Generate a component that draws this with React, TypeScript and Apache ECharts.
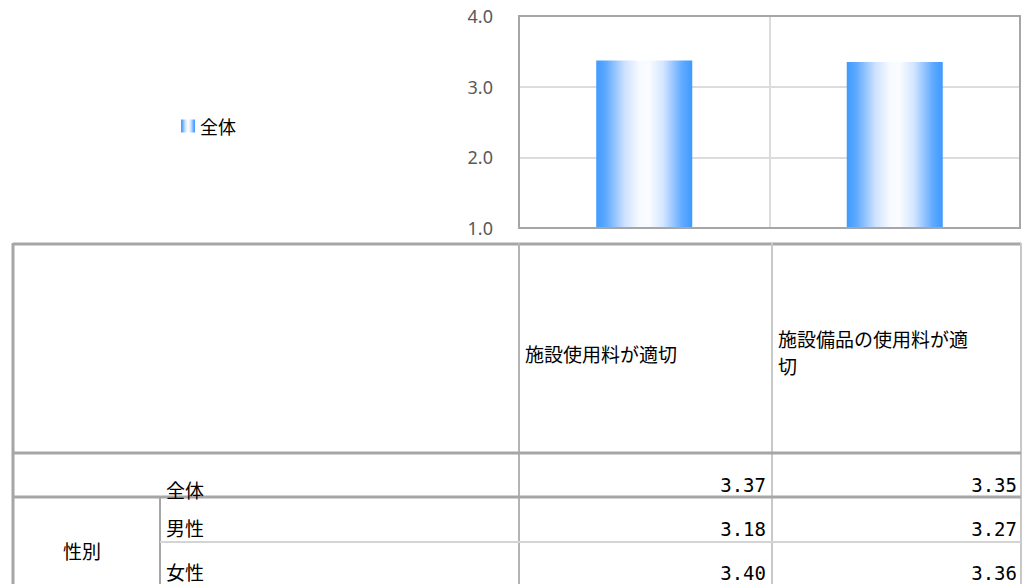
import React, { useEffect, useRef } from "react";
import * as echarts from "echarts";

const categories = ["施設使用料が適切", "施設備品の使用料が適\n切"];
const seriesName = "全体";
const overallValues = [3.37, 3.35];
const maleValues = [3.18, 3.27];
const femaleValues = [3.4, 3.36];
const rowLabels = ["全体", "男性", "女性"];
const groupLabel = "性別";
const yTicks = { min: 1, max: 4, interval: 1 };

const JP = '"Noto Sans CJK JP", "Noto Sans", sans-serif';
const NUM = '"DejaVu Sans Mono", monospace';

export default function App() {
  const ref = useRef<HTMLDivElement>(null);
  useEffect(() => {
    if (!ref.current) return;
    const chart = echarts.init(ref.current, undefined, { renderer: "svg" });
    const grad = new echarts.graphic.LinearGradient(0, 0, 1, 0, [
      { offset: 0, color: "#3f9aff" },
      { offset: 0.1, color: "#5ea9ff" },
      { offset: 0.3, color: "#cfe2ff" },
      { offset: 0.45, color: "#f7faff" },
      { offset: 0.55, color: "#fafcff" },
      { offset: 0.7, color: "#d3e5ff" },
      { offset: 0.9, color: "#5ea9ff" },
      { offset: 1, color: "#3f9aff" },
    ]);
    const outer = "#a6a6a6";
    const inner = "#c8c8c8";
    const line = (x1: number, y1: number, x2: number, y2: number, color: string, w: number) => ({
      type: "line",
      shape: { x1, y1, x2, y2 },
      style: { stroke: color, lineWidth: w },
      silent: true,
      z: 10,
    });
    const txt = (text: string, x: number, y: number, opts: any = {}) => ({
      type: "text",
      x,
      y,
      style: {
        text,
        fill: "#000",
        font: `19px ${JP}`,
        verticalAlign: "middle",
        align: "left",
        ...opts,
      },
      silent: true,
      z: 10,
    });
    const fmt = (v: number) => v.toFixed(2);
    const colRight = [766, 1017];
    const rowY = [485, 529, 573];
    const rows = [overallValues, maleValues, femaleValues];

    const graphics: any[] = [
      {
        type: "rect",
        shape: { x: 519, y: 16, width: 501, height: 212 },
        style: { fill: "none", stroke: "#a6a6a6", lineWidth: 2 },
        silent: true,
        z: 10,
      },
      line(13, 244, 1021, 244, outer, 3),
      line(13, 243, 13, 584, outer, 3),
      line(519, 243, 519, 584, "#b4b4b4", 2),
      line(772, 243, 772, 584, inner, 2),
      line(1021, 243, 1021, 584, inner, 2),
      line(13, 453, 1021, 453, outer, 3),
      line(13, 497, 1021, 497, outer, 3),
      line(160, 497, 160, 584, outer, 2),
      line(160, 542, 1021, 542, "#d4d4d4", 2),
      txt(categories[0], 525, 353),
      txt(categories[1], 778, 352, { lineHeight: 27 }),
      txt(rowLabels[0], 166, 489),
      txt(rowLabels[1], 166, 527),
      txt(rowLabels[2], 166, 571),
      txt(groupLabel, 63, 550),
    ];
    rows.forEach((vals, r) => {
      vals.forEach((v, c) => {
        graphics.push(
          txt(fmt(v), colRight[c], rowY[r], { align: "right", font: `19px ${NUM}` })
        );
      });
    });

    chart.setOption({
      animation: false,
      backgroundColor: "#fff",
      legend: {
        data: [seriesName],
        left: 176,
        top: 112,
        icon: "rect",
        itemWidth: 14,
        itemHeight: 13,
        textStyle: { fontSize: 18, color: "#000", fontFamily: JP },
      },
      grid: {
        left: 519,
        right: 3,
        top: 16,
        bottom: 356,
        show: false,
      },
      xAxis: {
        type: "category",
        data: categories,
        axisLabel: { show: false },
        axisTick: { show: false },
        axisLine: { show: false },
        splitLine: { show: true, interval: 0, lineStyle: { color: "#dcdcdc", width: 2 } },
      },
      yAxis: {
        type: "value",
        min: yTicks.min,
        max: yTicks.max,
        interval: yTicks.interval,
        axisLabel: {
          formatter: (v: number) => v.toFixed(1),
          color: "#595959",
          fontSize: 18,
          fontFamily: '"Noto Sans", sans-serif',
          margin: 26,
        },
        axisLine: { show: false },
        axisTick: { show: false },
        splitLine: { lineStyle: { color: "#dcdcdc", width: 2 } },
      },
      series: [
        {
          name: seriesName,
          type: "bar",
          data: overallValues,
          barWidth: 96,
          itemStyle: { color: grad },
        },
      ],
      graphic: graphics,
    });
    return () => chart.dispose();
  }, []);
  return (
    <div
      ref={ref}
      style={{ position: "fixed", left: 0, top: 0, width: 1023, height: 584, background: "#fff" }}
    />
  );
}
